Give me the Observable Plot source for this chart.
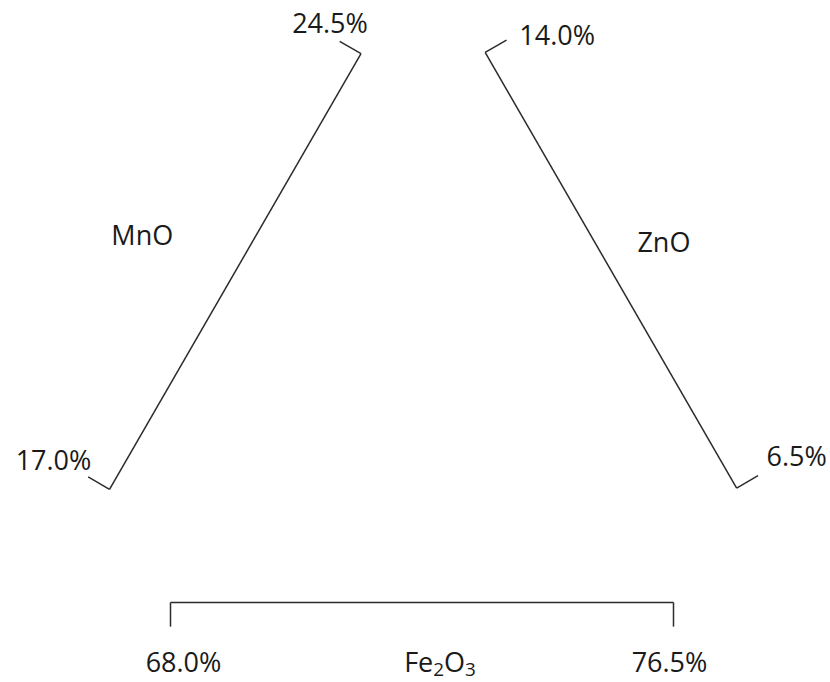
<!DOCTYPE html>
<html>
<head>
<meta charset="utf-8">
<script src="https://cdn.jsdelivr.net/npm/d3@7"></script>
<script src="https://cdn.jsdelivr.net/npm/@observablehq/plot@0.6"></script>
<style>
  html, body { margin: 0; padding: 0; background: #fff; }
  #chart svg { display: block; }
</style>
</head>
<body>
<div id="chart"></div>
<script>
// Ternary composition window (mass %)
const components = ["Fe2O3", "MnO", "ZnO"];
const lowValues  = [68.0, 17.0, 6.5];
const highValues = [76.5, 24.5, 14.0];

// Geometry of the unit equilateral triangle and how each axis sits on it
const H = Math.sqrt(3) / 2;
const vertex = { bl: [0, 0], br: [1, 0], top: [0.5, H] };
const axisGeom = {
  Fe2O3: { from: "bl", to: "br",  normal: [0, -1],  offset: 0.155, tick: 0.048 },
  MnO:   { from: "bl", to: "top", normal: [-H, 0.5], offset: 0.14,  tick: 0.049 },
  ZnO:   { from: "br", to: "top", normal: [H, 0.5],  offset: 0.145, tick: 0.049 }
};
// label nudges in pixels (dx, dy) from the axis ends / midpoint
const labelNudge = {
  Fe2O3: { lo: [13, 61],   hi: [-4, 61],   title: [18, 61] },
  MnO:   { lo: [-56, -28], hi: [-31, -29], title: [-93, -35] },
  ZnO:   { lo: [60, -31],  hi: [72, -16],  title: [53, -27] }
};
const PX = 503; // pixels per unit side

function axisPoint(name, v) {
  const i = components.indexOf(name);
  const g = axisGeom[name];
  const t = (v - lowValues[i]) / (highValues[i] - lowValues[i]);
  const a = vertex[g.from], b = vertex[g.to];
  return [
    a[0] + t * (b[0] - a[0]) + g.offset * g.normal[0],
    a[1] + t * (b[1] - a[1]) + g.offset * g.normal[1]
  ];
}

const axisLines = [], ticks = [], labels = [];
components.forEach((name, i) => {
  const g = axisGeom[name];
  const p0 = axisPoint(name, lowValues[i]);
  const p1 = axisPoint(name, highValues[i]);
  axisLines.push({ x1: p0[0], y1: p0[1], x2: p1[0], y2: p1[1] });
  [[p0, lowValues[i], "lo"], [p1, highValues[i], "hi"]].forEach(([p, v, k]) => {
    ticks.push({ x1: p[0], y1: p[1], x2: p[0] + g.tick * g.normal[0], y2: p[1] + g.tick * g.normal[1] });
    const n = labelNudge[name][k];
    labels.push({ x: p[0] + n[0] / PX, y: p[1] - n[1] / PX, text: v.toFixed(1) + "%" });
  });
  const mid = axisPoint(name, (lowValues[i] + highValues[i]) / 2);
  const n = labelNudge[name].title;
  labels.push({ x: mid[0] + n[0] / PX, y: mid[1] - n[1] / PX, text: name });
});

const ink = "#2b2b2b";
const chart = Plot.plot({
  width: 830,
  height: 682,
  margin: 0,
  style: { background: "#fff", fontFamily: "'Open Sans', sans-serif" },
  x: { domain: [0, 1], range: [170, 170 + PX], axis: null },
  y: { domain: [0, 1], range: [524, 524 - PX], axis: null },
  marks: [
    Plot.link(axisLines, { x1: "x1", y1: "y1", x2: "x2", y2: "y2", stroke: ink, strokeWidth: 1.5 }),
    Plot.link(ticks, { x1: "x1", y1: "y1", x2: "x2", y2: "y2", stroke: ink, strokeWidth: 1.5 }),
    Plot.text(labels, { x: "x", y: "y", text: "text", fontSize: 27, fill: "#1a1a1a", textAnchor: "middle" })
  ]
});

// chemical formulas: digits become subscripts
d3.select(chart).selectAll("text").each(function () {
  const s = this.textContent;
  if (!/^[A-Z][a-z]?\d/.test(s)) return;
  const el = d3.select(this);
  el.text(null);
  let down = false;
  s.split(/(\d+)/).filter(p => p).forEach(part => {
    const isNum = /^\d+$/.test(part);
    const ts = el.append("tspan").text(part);
    if (isNum && !down) { ts.attr("dy", 4).attr("font-size", "70%"); down = true; }
    else if (!isNum && down) { ts.attr("dy", -4); down = false; }
    else if (isNum) ts.attr("font-size", "70%");
  });
});

document.getElementById("chart").appendChild(chart);
</script>
</body>
</html>
